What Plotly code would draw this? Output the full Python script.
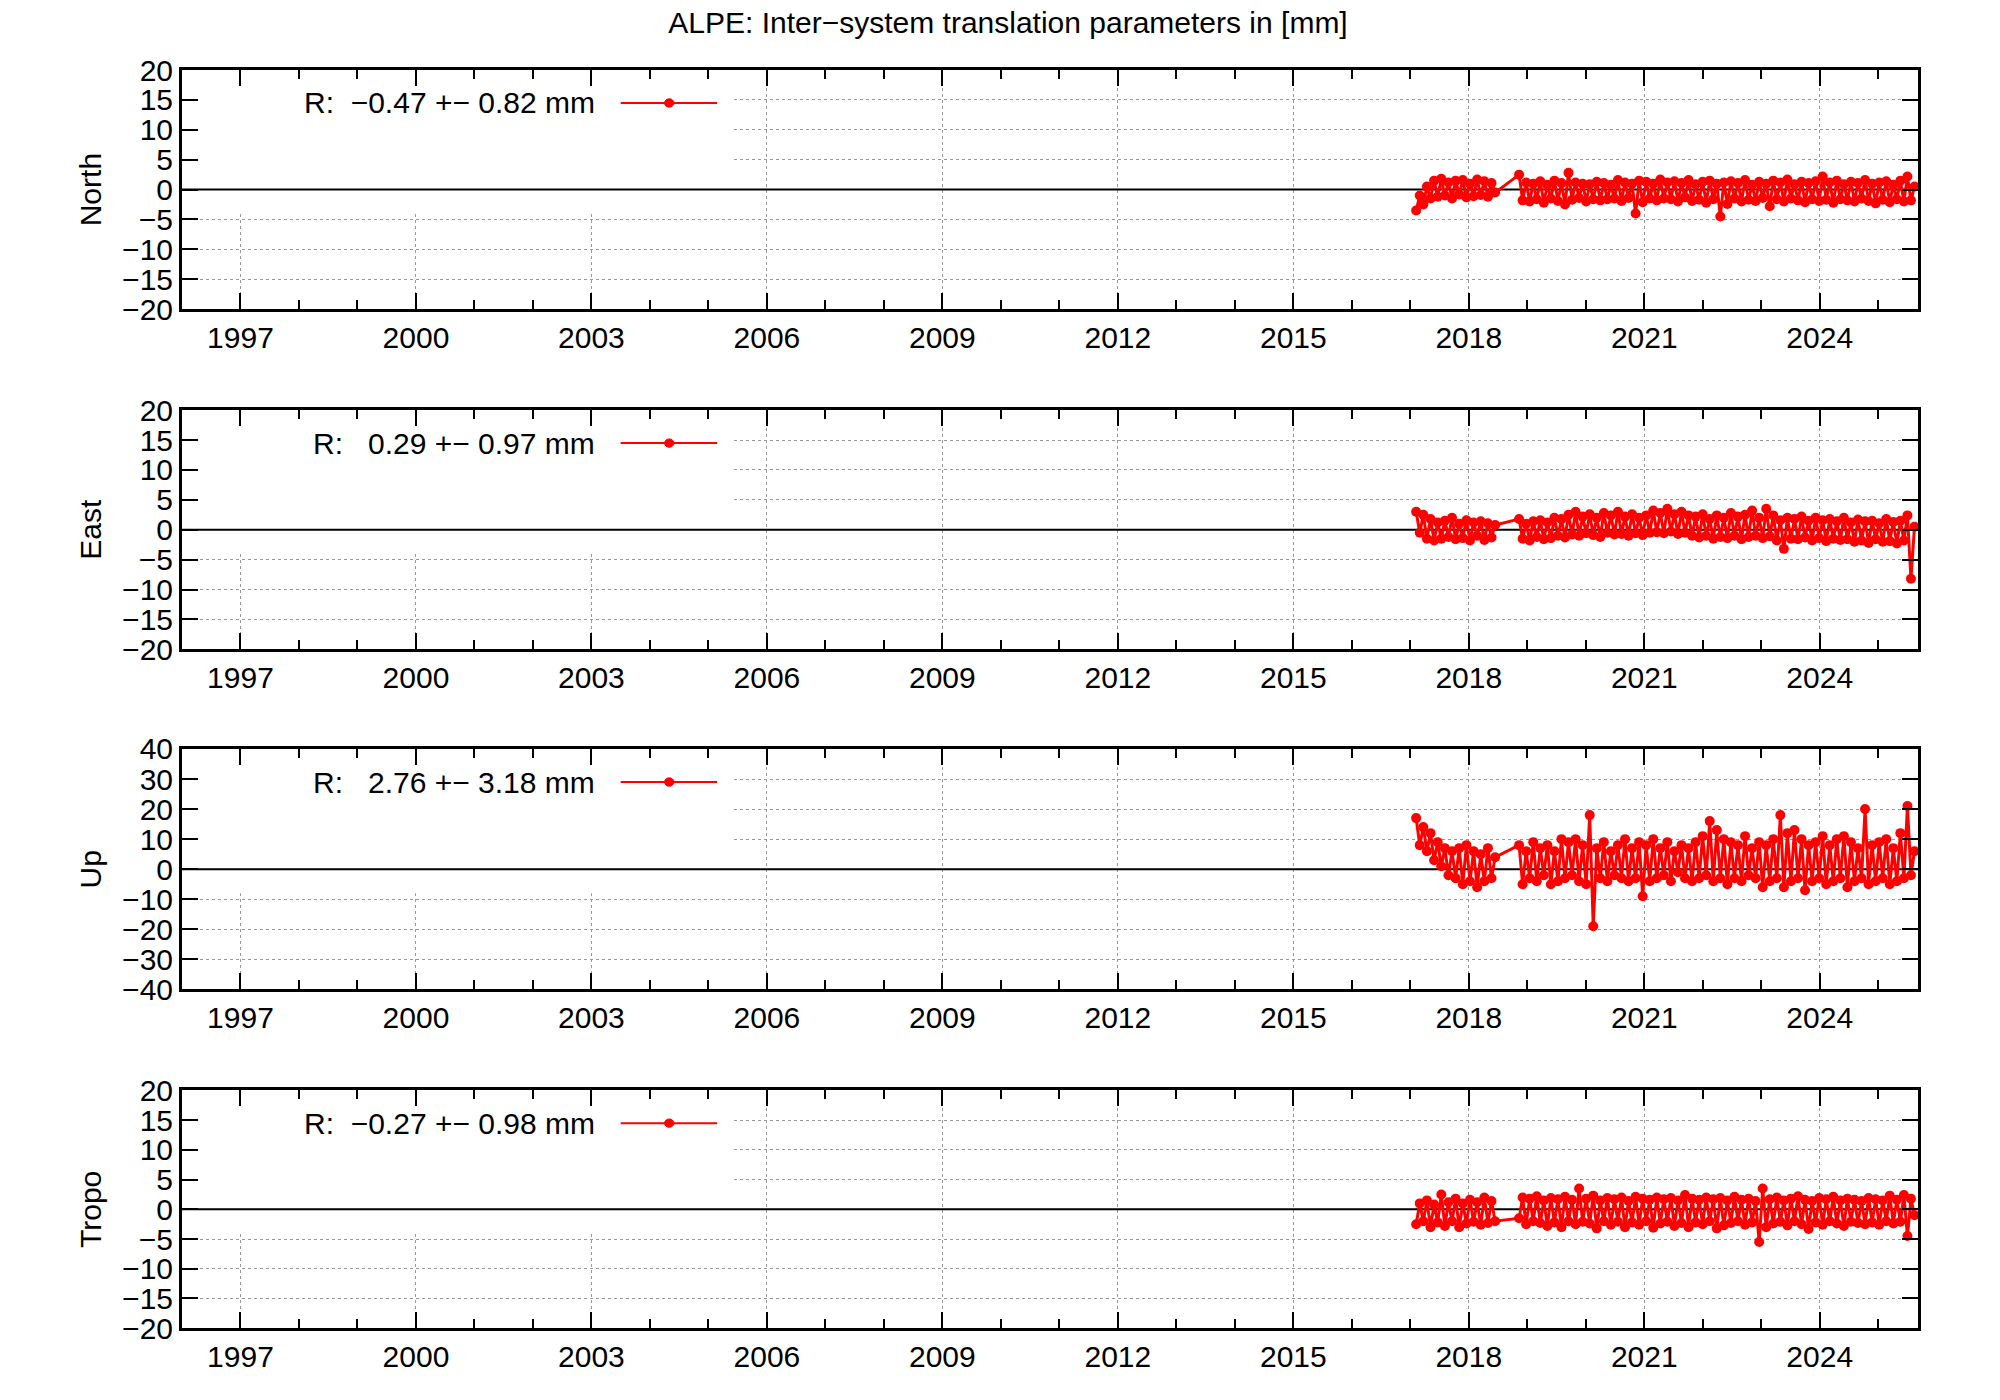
import numpy as np
import plotly.graph_objects as go

# hand-read values (mm), two observation segments with a gap in mid-2018
seg1_start, seg1_end = 2017.10, 2018.45
seg2_start, seg2_end = 2018.86, 2025.62

north_seg1 = [-3.5, -1.0, -2.5, 0.5, -1.5, 1.5, -1.2, 1.8, -1.0, 1.2,
              -1.5, 1.5, -0.8, 1.6, -1.3, 1.0, -1.1, 1.7, -0.9, 1.4,
              -1.2, 1.1, -0.5]
north_seg2 = [2.5, -1.8, 1.2, -2.0, 1.0, -1.6, 1.4, -2.2, 0.8, -1.5,
              1.5, -1.9, 1.1, -2.5, 2.8, -1.7, 1.2, -1.4, 1.0, -2.0,
              0.9, -1.6, 1.3, -1.8, 1.1, -1.6, 0.8, -1.5, 1.6, -1.9,
              1.2, -1.4, 1.0, -4.0, 1.5, -2.1, 1.3, -1.5, 1.0, -1.8,
              1.7, -1.5, 1.2, -1.6, 1.4, -2.0, 1.1, -1.3, 1.6, -1.9,
              0.9, -1.7, 1.3, -2.2, 1.5, -1.6, 1.0, -4.5, 1.2, -2.4,
              1.4, -1.5, 1.1, -2.0, 1.6, -1.7, 0.8, -1.9, 1.3, -1.4,
              1.0, -2.8, 1.5, -1.6, 1.2, -2.0, 1.7, -1.5, 0.9, -1.8,
              1.3, -2.1, 1.1, -1.6, 1.4, -1.9, 2.2, -1.7, 1.2, -2.2,
              1.5, -1.6, 0.9, -1.8, 1.3, -2.0, 1.1, -1.5, 1.6, -1.9,
              1.0, -2.3, 1.2, -1.7, 1.4, -2.1, 0.8, -1.6, 1.5, -2.0,
              2.2, -1.8, 0.5]

east_seg1 = [3.0, -0.5, 2.5, -1.5, 1.8, -1.8, 1.2, -1.5, 1.5, -1.2,
             2.0, -1.6, 1.0, -1.4, 1.6, -1.8, 1.2, -1.0, 1.4, -1.7,
             1.1, -1.3, 0.8]
east_seg2 = [1.8, -1.5, 1.0, -1.8, 1.4, -1.2, 1.6, -1.6, 1.2, -1.4,
             2.0, -1.0, 1.8, -1.3, 2.5, -0.8, 3.0, -1.0, 2.2, -0.6,
             2.6, -0.9, 2.0, -1.2, 2.8, -0.5, 2.4, -0.8, 3.0, -0.7,
             2.2, -1.0, 2.6, -0.6, 2.0, -0.9, 2.4, -0.5, 3.2, -0.4,
             2.8, -0.6, 3.5, -0.3, 2.6, -0.7, 3.0, -0.5, 2.4, -1.0,
             2.2, -1.3, 2.6, -1.0, 1.8, -1.5, 2.4, -1.2, 2.0, -1.4,
             2.8, -1.0, 2.2, -1.6, 2.5, -1.2, 3.2, -1.0, 2.0, -1.4,
             3.5, -1.1, 2.4, -1.8, 1.6, -3.2, 2.0, -1.5, 1.8, -1.6,
             2.2, -1.3, 1.5, -1.8, 2.0, -1.4, 1.6, -1.9, 1.8, -1.5,
             1.4, -1.7, 2.0, -1.6, 1.2, -2.0, 1.7, -1.8, 1.4, -2.2,
             1.5, -1.6, 1.1, -2.0, 1.8, -1.9, 1.3, -2.3, 1.5, -1.8,
             2.4, -8.2, 0.5]

up_seg1 = [17.0, 8.0, 14.0, 6.0, 12.0, 3.0, 9.0, 1.0, 7.0, -2.0,
           6.0, -3.0, 7.0, -5.0, 8.0, -4.0, 6.0, -6.0, 5.0, -4.0,
           7.0, -3.0, 4.0]
up_seg2 = [8.0, -5.0, 6.0, -3.0, 9.0, -4.0, 7.0, -2.0, 8.0, -5.0,
           6.0, -4.0, 10.0, -3.0, 9.0, -2.0, 10.0, -4.0, 8.0, -5.0,
           18.0, -19.0, 7.0, -3.0, 9.0, -4.0, 6.0, -2.0, 8.0, -3.0,
           10.0, -4.0, 7.0, -3.0, 9.0, -9.0, 8.0, -4.0, 10.0, -3.0,
           7.0, -2.0, 9.0, -4.0, 6.0, -1.0, 8.0, -3.0, 7.0, -4.0,
           9.0, -3.0, 11.0, -2.0, 16.0, -4.0, 13.0, -3.0, 10.0, -5.0,
           9.0, -3.0, 8.0, -4.0, 11.0, -2.0, 7.0, -3.0, 9.0, -6.0,
           8.0, -4.0, 10.0, -3.0, 18.0, -6.0, 12.0, -4.0, 13.0, -3.0,
           10.0, -7.0, 8.0, -4.0, 9.0, -3.0, 11.0, -5.0, 8.0, -4.0,
           10.0, -3.0, 11.0, -6.0, 9.0, -4.0, 7.0, -3.0, 20.0, -5.0,
           8.0, -4.0, 9.0, -3.0, 10.0, -5.0, 7.0, -4.0, 12.0, -3.0,
           21.0, -2.0, 6.0]

tropo_seg1 = [-2.5, 1.0, -2.0, 1.5, -3.0, 0.8, -2.2, 2.5, -2.8, 1.2,
              -2.0, 1.8, -3.0, 1.0, -2.4, 1.6, -2.1, 1.2, -2.6, 2.0,
              -2.3, 1.4, -2.0]
tropo_seg2 = [-1.5, 2.0, -2.5, 1.8, -2.0, 2.2, -2.3, 1.5, -2.8, 1.9,
              -2.2, 1.7, -3.0, 2.1, -2.0, 1.6, -2.5, 3.5, -2.1, 1.8,
              -2.4, 2.3, -3.2, 1.5, -2.0, 1.9, -2.6, 1.7, -2.1, 2.0,
              -3.0, 1.4, -2.2, 2.1, -2.6, 1.8, -2.0, 1.6, -3.1, 2.0,
              -2.4, 1.7, -2.1, 1.9, -2.8, 1.5, -2.3, 2.4, -3.0, 1.8,
              -2.2, 1.6, -2.5, 2.0, -2.0, 1.7, -3.2, 1.9, -2.7, 1.5,
              -2.3, 2.1, -2.0, 1.6, -2.6, 1.8, -2.2, 1.4, -5.5, 3.5,
              -3.0, 1.7, -2.4, 2.0, -2.1, 1.5, -2.7, 1.8, -2.0, 2.2,
              -2.5, 1.6, -3.3, 1.4, -2.2, 1.9, -2.6, 1.7, -2.0, 2.1,
              -2.4, 1.5, -2.8, 1.8, -2.1, 1.6, -2.3, 1.4, -2.5, 1.9,
              -2.2, 1.7, -2.6, 1.5, -2.0, 2.3, -2.4, 1.6, -2.1, 2.4,
              -4.5, 1.8, -1.0]

panels = ["North", "East", "Up", "Tropo"]
seg1_vals = [north_seg1, east_seg1, up_seg1, tropo_seg1]
seg2_vals = [north_seg2, east_seg2, up_seg2, tropo_seg2]
legend_texts = ["R:  \u22120.47 +\u2212 0.82 mm", "R:   0.29 +\u2212 0.97 mm",
                "R:   2.76 +\u2212 3.18 mm", "R:  \u22120.27 +\u2212 0.98 mm"]
y_limits = [20, 20, 40, 20]
y_steps = [5, 5, 10, 5]

domains = [(0.792, 0.967), (0.543, 0.718), (0.294, 0.470), (0.046, 0.220)]
x_range = [1996.0, 2025.68]
font = dict(family="Liberation Sans, Arial", size=30, color="black")

fig = go.Figure()
for i, name in enumerate(panels):
    n = i + 1
    xa = "x" if n == 1 else f"x{n}"
    ya = "y" if n == 1 else f"y{n}"
    t1 = np.linspace(seg1_start, seg1_end, len(seg1_vals[i]))
    t2 = np.linspace(seg2_start, seg2_end, len(seg2_vals[i]))
    fig.add_trace(go.Scatter(
        x=np.concatenate([t1, t2]), y=seg1_vals[i] + seg2_vals[i],
        mode="lines+markers", line=dict(color="#ff0000", width=3),
        marker=dict(color="#ff0000", size=10), showlegend=False,
        xaxis=xa, yaxis=ya))

    lim = y_limits[i]
    fig.update_layout({
        f"xaxis{'' if n == 1 else n}": dict(
            domain=[0.087, 0.955], range=x_range, anchor=ya,
            tickvals=list(range(1997, 2026, 3)), ticks="inside", ticklen=16,
            tickwidth=2, tickcolor="black",
            minor=dict(tickvals=list(range(1996, 2026)), ticks="inside",
                       ticklen=9, showgrid=False, tickcolor="black"),
            showgrid=True, gridcolor="#999999", griddash="dot", gridwidth=1,
            showline=True, linecolor="black", linewidth=3, mirror="allticks",
            zeroline=False, tickfont=font),
        f"yaxis{'' if n == 1 else n}": dict(
            domain=list(domains[i]), range=[-lim, lim], anchor=xa,
            dtick=y_steps[i], ticks="inside", ticklen=16, tickwidth=2,
            tickcolor="black",
            showgrid=True, gridcolor="#999999", griddash="dot", gridwidth=1,
            zeroline=False,
            showline=True, linecolor="black", linewidth=3, mirror="allticks",
            tickfont=font, title=dict(text=name, font=font, standoff=12)),
    })

    # blank key area where gnuplot draws the legend over the grid
    fig.add_shape(type="rect", xref=xa, yref=ya, x0=x_range[0], x1=2005.4,
                  y0=-0.2 * lim, y1=lim, fillcolor="white", line_width=0,
                  layer="between")
    fig.add_shape(type="line", xref=xa, yref=ya, x0=x_range[0], x1=x_range[1],
                  y0=0, y1=0, line=dict(color="black", width=2), layer="between")
    key_y = 0.725 * lim
    fig.add_annotation(xref=xa, yref=ya, x=2003.1, y=key_y, text=legend_texts[i],
                       showarrow=False, xanchor="right", font=font)
    fig.add_shape(type="line", xref=xa, yref=ya, x0=2003.5, x1=2005.15,
                  y0=key_y, y1=key_y, line=dict(color="#ff0000", width=2))
    fig.add_shape(type="circle", xref=xa, yref=ya, x0=2004.25, x1=2004.41,
                  y0=key_y - 0.035 * lim, y1=key_y + 0.035 * lim,
                  fillcolor="#ff0000", line=dict(color="#ff0000", width=1))

fig.update_layout(
    width=2000, height=1400, plot_bgcolor="white", paper_bgcolor="white",
    margin=dict(l=0, r=0, t=0, b=0),
    title=dict(text="ALPE: Inter\u2212system translation parameters in [mm]",
               x=0.5, xanchor="center", y=0.99, yanchor="middle", font=font),
)

fig.write_html("out.html")
